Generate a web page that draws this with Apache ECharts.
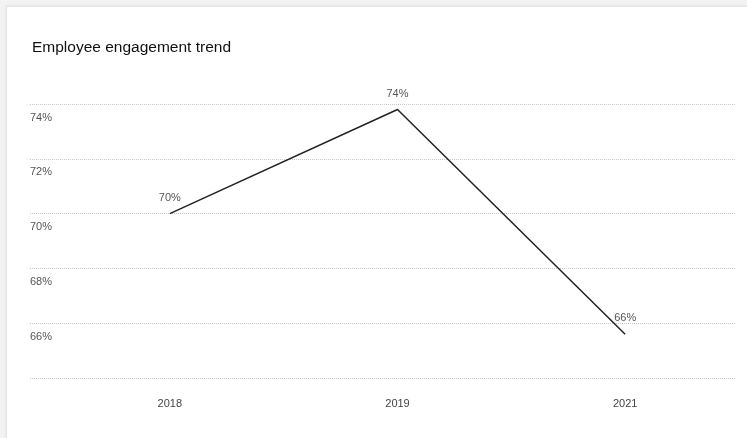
<!DOCTYPE html>
<html>
<head>
<meta charset="utf-8">
<script src="https://cdn.jsdelivr.net/npm/echarts@6/dist/echarts.min.js"></script>
<style>
  html, body { margin: 0; padding: 0; background: #f3f3f3; }
  .card {
    position: absolute; left: 6px; top: 6px; width: 760px; height: 450px;
    background: #fff; border: 1px solid #e4e4e4; box-shadow: 0 0 3px rgba(0,0,0,0.08);
  }
  #chart { position: absolute; left: 0; top: 0; width: 747px; height: 438px; }
</style>
</head>
<body>
<div class="card"></div>
<div id="chart"></div>
<script>
var years = ['2018', '2019', '2021']
var engagement = [70.0, 73.8, 65.6]
var yMin = 64
var yMax = 74
var yStep = 2

var chart = echarts.init(document.getElementById('chart'))
var option = {
  animation: false,
  title: {
    text: 'Employee engagement trend',
    left: 32,
    top: 40,
    padding: 0,
    textStyle: {
      fontFamily: 'Liberation Sans',
      fontSize: 15.5,
      fontWeight: 'normal',
      color: '#111'
    }
  },
  grid: [
    { left: 30, right: 11, top: 104, bottom: 60 },
    { left: 56, right: 8, top: 104, bottom: 60 }
  ],
  xAxis: [
    { gridIndex: 0, type: 'category', data: years, show: false },
    {
      gridIndex: 1,
      type: 'category',
      data: years,
      boundaryGap: true,
      axisLine: { show: false },
      axisTick: { show: false },
      axisLabel: {
        margin: 20,
        fontFamily: 'Liberation Sans',
        fontSize: 11,
        color: '#444'
      }
    }
  ],
  yAxis: [
    {
      gridIndex: 0,
      type: 'value',
      min: yMin,
      max: yMax,
      interval: yStep,
      axisLine: { show: false },
      axisTick: { show: false },
      splitLine: { lineStyle: { type: 'dotted', color: '#c8c8c8', width: 1 } },
      axisLabel: {
        inside: true,
        margin: 0,
        showMinLabel: false,
        verticalAlign: 'top',
        padding: [8, 0, 0, 0],
        fontFamily: 'Liberation Sans',
        fontSize: 11,
        color: '#555',
        formatter: '{value}%'
      }
    },
    { gridIndex: 1, type: 'value', min: yMin, max: yMax, interval: yStep, show: false }
  ],
  series: [
    {
      type: 'line',
      xAxisIndex: 1,
      yAxisIndex: 1,
      data: engagement,
      symbol: 'circle',
      symbolSize: 1,
      showSymbol: true,
      itemStyle: { color: 'rgba(0,0,0,0)' },
      lineStyle: { color: '#222', width: 1.5 },
      label: {
        show: true,
        position: 'top',
        distance: 10,
        fontFamily: 'Liberation Sans',
        fontSize: 11,
        color: '#555',
        formatter: function (p) { return Math.round(p.value) + '%' }
      }
    }
  ]
}
chart.setOption(option)
</script>
</body>
</html>
